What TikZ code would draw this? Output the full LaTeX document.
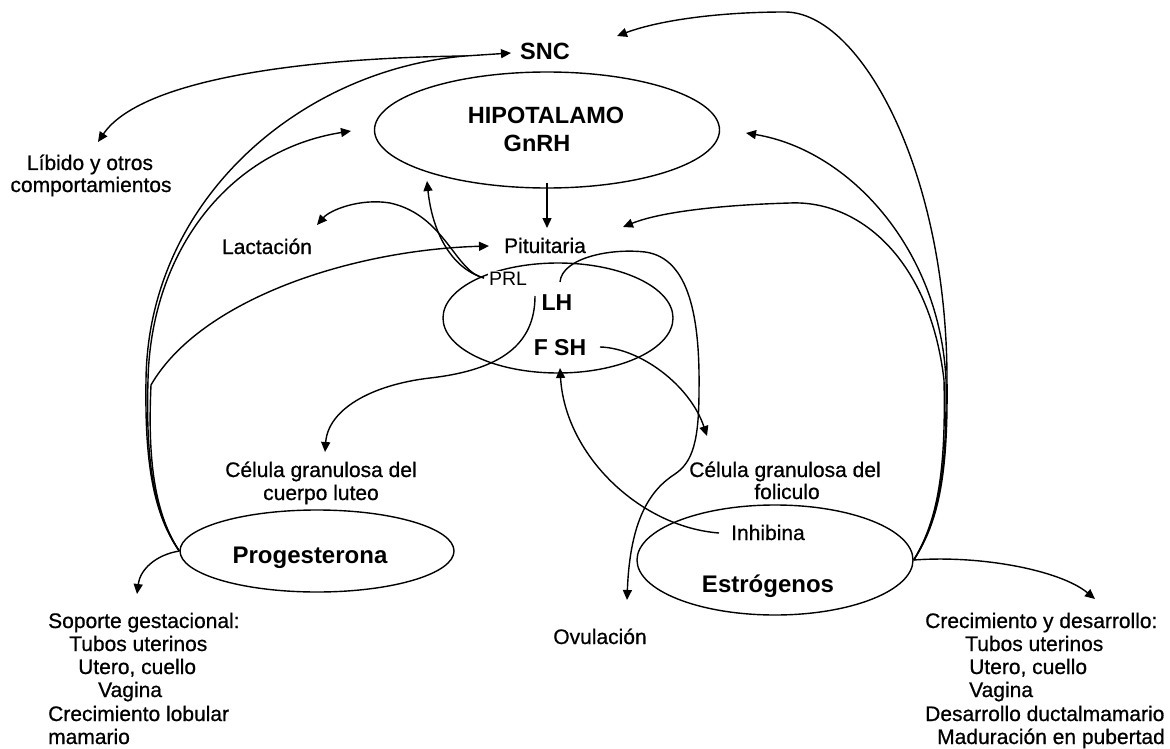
\documentclass[tikz,border=0pt]{standalone}
\usepackage{fontspec}
\setmainfont{Liberation Sans}
\newfontfamily\medfont[RawFeature={embolden=0.7}]{Liberation Sans}
\usetikzlibrary{arrows.meta,shapes.geometric}
\begin{document}
\begin{tikzpicture}[x=1pt,y=-1pt,
  conn/.style={line width=1.4pt,-{Triangle[length=10pt,width=9pt]}},
  plainline/.style={line width=1.4pt},
  oval/.style={draw,line width=1.4pt,ellipse,inner sep=0pt},
  txt/.style={font=\medfont\fontsize{21}{23.5}\selectfont,inner sep=0pt},
  btxt/.style={font=\fontsize{23.5}{27}\selectfont\bfseries,inner sep=0pt}]
\useasboundingbox[fill=white] (0,0) rectangle (1170,749);

% ovals
\node[oval,minimum width=345pt,minimum height=116pt] (hip) at (547,130) {};
\node[oval,minimum width=230pt,minimum height=110pt] (pit) at (558,318) {};
\node[oval,minimum width=274pt,minimum height=82pt] (prog) at (317,551) {};
\node[oval,minimum width=276pt,minimum height=110pt] (estr) at (775,560) {};

% texts
\node[btxt,anchor=base] (snc) at (545,60) {SNC};
\node[btxt,anchor=base] (hipt) at (546,124) {HIPOTALAMO};
\node[btxt,anchor=base] (gnrh) at (537,152) {GnRH};
\node[txt,anchor=base] (pitu) at (545,253) {Pituitaria};
\node[txt,anchor=base,fill=white,inner sep=1pt,font=\fontsize{19.5}{22}\selectfont] (prl) at (508,285) {PRL};
\node[btxt,anchor=base,font=\fontsize{23}{26}\selectfont\bfseries] (lh) at (557,310) {LH};
\node[btxt,anchor=base,font=\fontsize{23}{26}\selectfont\bfseries] (fsh) at (560,355) {F SH};
\node[txt,anchor=base] (lib1) at (90,170) {Líbido y otros};
\node[txt,anchor=base] (lib2) at (91,192) {comportamientos};
\node[txt,anchor=base] (lact) at (267,254) {Lactación};
\node[txt,anchor=base] (cl1) at (321,477) {Célula granulosa del};
\node[txt,anchor=base] (cl2) at (321,500) {cuerpo luteo};
\node[txt,anchor=base] (cf1) at (785,477) {Célula granulosa del};
\node[txt,anchor=base] (cf2) at (787,499) {foliculo};
\node[btxt,anchor=base,font=\fontsize{24}{27}\selectfont\bfseries] (progt) at (310,563) {Progesterona};
\node[btxt,anchor=base,font=\fontsize{24}{27}\selectfont\bfseries] (estrt) at (768,592) {Estrógenos};
\node[txt,anchor=base] (inh) at (768,540) {Inhibina};
\node[txt,anchor=base] (ovu) at (600,644) {Ovulación};

% left block
\node[txt,anchor=base west] (s1) at (48,628) {Soporte gestacional:};
\node[txt,anchor=base west] (s2) at (69,651) {Tubos uterinos};
\node[txt,anchor=base west] (s3) at (78,674) {Utero, cuello};
\node[txt,anchor=base west] (s4) at (98,697) {Vagina};
\node[txt,anchor=base west] (s5) at (48,721) {Crecimiento lobular};
\node[txt,anchor=base west] (s6) at (48,744) {mamario};

% right block
\node[txt,anchor=base west] (c1) at (925,628) {Crecimiento y desarrollo:};
\node[txt,anchor=base west] (c2) at (965,651) {Tubos uterinos};
\node[txt,anchor=base west] (c3) at (969,674) {Utero, cuello};
\node[txt,anchor=base west] (c4) at (969,697) {Vagina};
\node[txt,anchor=base west] (c5) at (925,721) {Desarrollo ductalmamario};
\node[txt,anchor=base west] (c6) at (937,744) {Maduración en pubertad};

% connector ends
\coordinate (sncin) at (511,53);
\coordinate (hub) at (465,56);
\coordinate (libt) at (98,142);
\coordinate (hipl) at (351,131);
\coordinate (hipr) at (746,133);
\coordinate (hipb) at (427,181);
\coordinate (hips) at (547,183);
\coordinate (pitl) at (489,246);
\coordinate (pitr) at (623,227);
\coordinate (pitn) at (547,228);
\coordinate (sncr) at (617,36);
\coordinate (lactt) at (317,225);
\coordinate (prlw) at (484,278);
\coordinate (lhs) at (535,296);
\coordinate (lhn) at (560,282);
\coordinate (fshe) at (600,347);
\coordinate (fshb) at (560,368);
\coordinate (inhw) at (719,533);
\coordinate (lutt) at (325,452);
\coordinate (folt) at (707,436);
\coordinate (ovut) at (627,600);
\coordinate (sopt) at (137,594);
\coordinate (crect) at (1095,599);

% hypothalamus -> pituitary
\draw[conn] (hips) -- (pitn);

% SNC -> libido
\draw[conn] (hub) .. controls (300,58) and (140,80) .. (libt);

% left bundle from Progesterona
\draw[plainline] (prog.west) .. controls (150,510) and (145,450) .. (146,380)
   .. controls (148,200) and (300,70) .. (hub);
\draw[conn] (hub) -- (sncin);
\draw[conn] (prog.west) .. controls (151,510) and (146,450) .. (148,380)
   .. controls (151,250) and (230,150) .. (hipl);
\draw[conn] (prog.west) .. controls (152,510) and (148,450) .. (151,385)
   .. controls (200,300) and (350,250) .. (pitl);
\draw[conn] (prog.west) .. controls (155,555) and (140,570) .. (sopt);

% right bundle from Estrogenos
\draw[conn] (estr.east) .. controls (940,520) and (948,470) .. (947,380)
   .. controls (947,170) and (860,12) .. (785,12)
   .. controls (720,12) and (660,20) .. (sncr);
\draw[conn] (estr.east) .. controls (939,520) and (947,470) .. (946,380)
   .. controls (940,250) and (850,150) .. (hipr);
\draw[conn] (estr.east) .. controls (938,520) and (946,470) .. (944,380)
   .. controls (930,260) and (860,200) .. (790,203)
   .. controls (720,205) and (660,212) .. (pitr);
\draw[conn] (estr.east) .. controls (980,555) and (1060,570) .. (crect);

% PRL
\draw[conn] (prlw) .. controls (450,268) and (432,230) .. (hipb);
\draw[conn] (prlw) .. controls (455,272) and (445,215) .. (390,203)
   .. controls (360,198) and (330,210) .. (lactt);

% LH
\draw[conn] (lhs) .. controls (535,345) and (500,370) .. (430,378)
   .. controls (370,385) and (328,410) .. (lutt);
\draw[conn] (lhn) .. controls (562,258) and (610,248) .. (645,252)
   .. controls (690,258) and (700,320) .. (699,390)
   .. controls (699,440) and (693,462) .. (675,474)
   .. controls (650,490) and (630,520) .. (ovut);

% FSH
\draw[conn] (fshe) .. controls (640,348) and (690,385) .. (folt);
\draw[conn] (inhw) .. controls (640,527) and (565,455) .. (fshb);
\end{tikzpicture}
\end{document}
